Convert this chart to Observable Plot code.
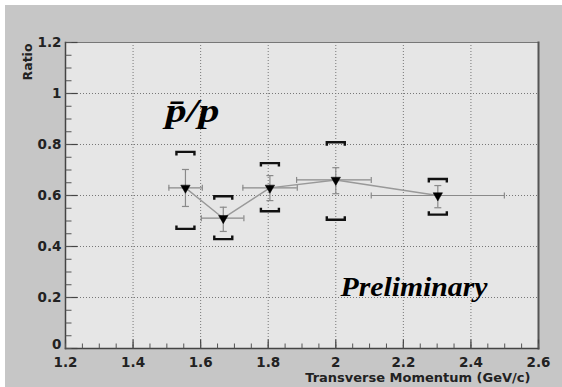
<!DOCTYPE html>
<html>
<head>
<meta charset="utf-8">
<script src="https://cdn.jsdelivr.net/npm/d3@7"></script>
<script src="https://cdn.jsdelivr.net/npm/@observablehq/plot@0.6"></script>
<style>
  html, body { margin: 0; padding: 0; background: #ffffff; }
  #wrap { width: 562px; height: 387px; position: relative; background: #ffffff; overflow: hidden; }
  #chart { position: absolute; left: 5px; top: 5px; }
</style>
</head>
<body>
<div id="wrap"><div id="chart"></div></div>
<script>
// ---- data ----
const pt     = [1.555, 1.667, 1.805, 2.000, 2.302];   // transverse momentum (GeV/c)
const ratio  = [0.630, 0.511, 0.630, 0.661, 0.600];   // pbar/p
const ptLo   = [1.506, 1.602, 1.725, 1.884, 2.105];
const ptHi   = [1.605, 1.728, 1.886, 2.105, 2.499];
const statLo = [0.557, 0.459, 0.580, 0.607, 0.552];
const statHi = [0.702, 0.554, 0.678, 0.709, 0.639];
const sysLo  = [0.469, 0.429, 0.538, 0.505, 0.525];
const sysHi  = [0.771, 0.597, 0.727, 0.809, 0.665];

const xTicks = [1.2, 1.4, 1.6, 1.8, 2.0, 2.2, 2.4, 2.6];
const yTicks = [0, 0.2, 0.4, 0.6, 0.8, 1.0, 1.2];
const xMinor = d3.range(24, 53).map(i => i / 20);
const yMinor = d3.range(0, 25).map(i => i / 20);
const xGrid  = [1.4, 1.6, 1.8, 2.0, 2.2, 2.4];
const yGrid  = [0.2, 0.4, 0.6, 0.8, 1.0];

const xTitle = "Transverse Momentum (GeV/c)";
const yTitle = "Ratio";
const label  = "p\u0304/p";
const prelim = "Preliminary";

const data = pt.map((x, i) => ({
  x, y: ratio[i], xlo: ptLo[i], xhi: ptHi[i],
  slo: statLo[i], shi: statHi[i], ylo: sysLo[i], yhi: sysHi[i]
}));

// ---- custom symbols ----
const sym = f => ({draw(ctx) { f(ctx); }});
const hCap = sym(c => { c.moveTo(-3.5, 0); c.lineTo(3.5, 0); });
const vCap = sym(c => { c.moveTo(0, -3); c.lineTo(0, 3); });
const brTop = sym(c => { c.moveTo(-9, 3.5); c.lineTo(-9, 0); c.lineTo(9, 0); c.lineTo(9, 3.5); });
const brBot = sym(c => { c.moveTo(-9, -3.5); c.lineTo(-9, 0); c.lineTo(9, 0); c.lineTo(9, -3.5); });
const yMajTick = sym(c => { c.moveTo(0, 0); c.lineTo(12, 0); });
const yMinTick = sym(c => { c.moveTo(0, 0); c.lineTo(6, 0); });
const xMajTick = sym(c => { c.moveTo(0, 0); c.lineTo(0, -9); });
const xMinTick = sym(c => { c.moveTo(0, 0); c.lineTo(0, -5); });

const fmt = d => String(Math.round(d * 10) / 10);

const chart = Plot.plot({
  width: 557,
  height: 382,
  marginLeft: 60,
  marginRight: 24,
  marginTop: 37,
  marginBottom: 39,
  style: {background: "#c6c6c6", fontFamily: "DejaVu Sans", fontSize: "13.5px", fontWeight: "bold", color: "#222"},
  x: {domain: [1.2, 2.6], axis: null},
  y: {domain: [0, 1.2], axis: null},
  marks: [
    Plot.frame({fill: "#e6e6e6", stroke: null}),
    Plot.gridX(xGrid, {stroke: "#777", strokeOpacity: 1, strokeDasharray: "1,2"}),
    Plot.gridY(yGrid, {stroke: "#777", strokeOpacity: 1, strokeDasharray: "1,2"}),
    // frame edges
    Plot.frame({anchor: "top", stroke: "#777", strokeWidth: 1.2}),
    Plot.frame({anchor: "right", stroke: "#555", strokeWidth: 2}),
    Plot.frame({anchor: "left", stroke: "#444", strokeWidth: 1.5}),
    Plot.frame({anchor: "bottom", stroke: "#444", strokeWidth: 1.5}),
    // inward ticks
    Plot.dot(yTicks, {y: d => d, frameAnchor: "left", symbol: yMajTick, stroke: "#444", strokeWidth: 1.2}),
    Plot.dot(yMinor, {y: d => d, frameAnchor: "left", symbol: yMinTick, stroke: "#555", strokeWidth: 1}),
    Plot.dot(xTicks, {x: d => d, frameAnchor: "bottom", symbol: xMajTick, stroke: "#444", strokeWidth: 1.2}),
    Plot.dot(xMinor, {x: d => d, frameAnchor: "bottom", symbol: xMinTick, stroke: "#555", strokeWidth: 1}),
    // tick labels
    Plot.axisY(yTicks.filter(d => d > 0), {tickSize: 0, tickPadding: 4, tickFormat: fmt, label: null, fill: "#222"}),
    Plot.axisY(yTicks.filter(d => d === 0), {tickSize: 0, tickPadding: 4, tickFormat: fmt, label: null, fill: "#222", dy: -3.5}),
    Plot.axisX(xTicks, {tickSize: 0, tickPadding: 8.5, tickFormat: fmt, label: null, fill: "#222"}),
    // axis titles
    Plot.text([xTitle], {text: d => d, frameAnchor: "bottom-right", textAnchor: "end", lineAnchor: "middle", dx: -8, dy: 29.5, fontSize: 13, fill: "#222"}),
    Plot.text([yTitle], {text: d => d, frameAnchor: "top-left", textAnchor: "end", lineAnchor: "middle", rotate: -90, dx: -38, dy: 1, fontSize: 12.5, fill: "#222"}),
    // systematic brackets
    Plot.dot(data, {x: "x", y: "yhi", symbol: brTop, stroke: "#111", strokeWidth: 2.4}),
    Plot.dot(data, {x: "x", y: "ylo", symbol: brBot, stroke: "#111", strokeWidth: 2.4}),
    // error bars
    Plot.ruleY(data, {y: "y", x1: "xlo", x2: "xhi", stroke: "#8a8a8a", strokeWidth: 1.2}),
    Plot.dot(data, {x: "xlo", y: "y", symbol: vCap, stroke: "#8a8a8a", strokeWidth: 1.2}),
    Plot.dot(data, {x: "xhi", y: "y", symbol: vCap, stroke: "#8a8a8a", strokeWidth: 1.2}),
    Plot.ruleX(data, {x: "x", y1: "slo", y2: "shi", stroke: "#8a8a8a", strokeWidth: 1.2}),
    Plot.dot(data, {x: "x", y: "slo", symbol: hCap, stroke: "#8a8a8a", strokeWidth: 1.2}),
    Plot.dot(data, {x: "x", y: "shi", symbol: hCap, stroke: "#8a8a8a", strokeWidth: 1.2}),
    // connecting line and markers
    Plot.line(data, {x: "x", y: "y", stroke: "#999", strokeWidth: 1.4}),
    Plot.dot(data, {x: "x", y: "y", symbol: "triangle", rotate: 180, r: 3.5, fill: "#000", stroke: "#000", strokeWidth: 0.5}),
    // annotations
    Plot.text([label], {text: d => d, frameAnchor: "top-left", textAnchor: "start", lineAnchor: "bottom", dx: 100, dy: 79, fontSize: 34, fontFamily: "Liberation Serif", fontStyle: "italic", fontWeight: "bold", fill: "#000"}),
    Plot.text([prelim], {text: d => d, frameAnchor: "top-left", textAnchor: "start", lineAnchor: "bottom", dx: 275, dy: 253, fontSize: 27, fontFamily: "Liberation Serif", fontStyle: "italic", fontWeight: "bold", fill: "#000"})
  ]
});

document.getElementById("chart").appendChild(chart);

// stretch annotation text horizontally like the reference
d3.select(chart).selectAll("text")
  .filter(function() { return this.textContent === prelim; })
  .attr("textLength", 147).attr("lengthAdjust", "spacingAndGlyphs");
d3.select(chart).selectAll("text")
  .filter(function() { return this.textContent === label; })
  .attr("textLength", 54).attr("lengthAdjust", "spacingAndGlyphs");
</script>
</body>
</html>
